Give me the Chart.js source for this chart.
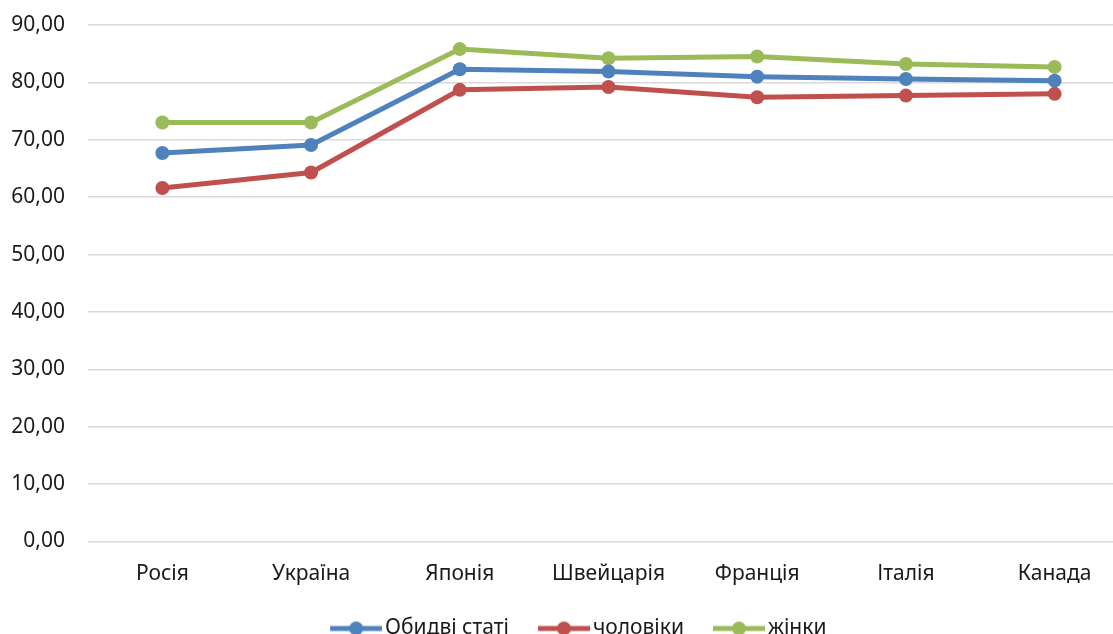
<!DOCTYPE html>
<html lang="uk">
<head>
<meta charset="utf-8">
<title>Тривалість життя</title>
<script src="https://cdn.jsdelivr.net/npm/chart.js@4/dist/chart.umd.min.js"></script>
<style>
  html, body { margin: 0; padding: 0; background: #fff; overflow: hidden; }
  #lifeChart { position: absolute; left: 0; top: 0; }
</style>
</head>
<body>
<canvas id="lifeChart" width="1136" height="649"></canvas>
<script>
// Країни
const countries = ['Росія', 'Україна', 'Японія', 'Швейцарія', 'Франція', 'Італія', 'Канада'];

// Значення по серіях
const bothSexes = [67.7, 69.1, 82.3, 81.9, 81.0, 80.6, 80.3];
const men = [61.6, 64.3, 78.7, 79.2, 77.4, 77.7, 78.0];
const women = [73.0, 73.0, 85.8, 84.2, 84.5, 83.2, 82.7];

// Шкала Y
const yMin = 0;
const yMax = 90;
const yStep = 10;

const FONT = 'Noto Sans';
const colors = ['#4F81BD', '#C0504D', '#9BBB59'];

// Значок легенди: лінія з кружечком (зліва прозорий відступ 18px)
function legendIcon(color) {
    const c = document.createElement('canvas');
    c.width = 70;
    c.height = 16;
    const g = c.getContext('2d');
    g.strokeStyle = color;
    g.lineWidth = 5;
    g.beginPath();
    g.moveTo(18, 8);
    g.lineTo(70, 8);
    g.stroke();
    g.fillStyle = color;
    g.beginPath();
    g.arc(44, 8, 7, 0, Math.PI * 2);
    g.fill();
    return c;
}
const icons = colors.map(legendIcon);

function series(label, values, color) {
    return {
        label: label,
        data: values,
        borderColor: color,
        backgroundColor: color,
        pointBackgroundColor: color,
        pointBorderWidth: 0,
        pointRadius: 7,
        pointHoverRadius: 7,
        borderWidth: 5,
        tension: 0,
        fill: false,
    };
}

const ctx = document.getElementById('lifeChart').getContext('2d');

new Chart(ctx, {
    type: 'line',
    data: {
        labels: countries,
        datasets: [
            series('Обидві статі', bothSexes, colors[0]),
            series('чоловіки', men, colors[1]),
            series('жінки', women, colors[2]),
        ],
    },
    options: {
        responsive: false,
        animation: false,
        devicePixelRatio: 1,
        layout: {
            padding: { top: 25, left: 12, right: 2, bottom: 0 }
        },
        plugins: {
            tooltip: { enabled: false },
            legend: {
                position: 'bottom',
                labels: {
                    usePointStyle: true,
                    pointStyleWidth: 55,
                    padding: 18.5,
                    color: '#1a1a1a',
                    font: { family: FONT, size: 21 },
                    generateLabels: (chart) => chart.data.datasets.map((ds, i) => ({
                        text: ds.label,
                        fillStyle: ds.borderColor,
                        strokeStyle: ds.borderColor,
                        fontColor: '#1a1a1a',
                        lineWidth: 0,
                        pointStyle: icons[i],
                        datasetIndex: i,
                        hidden: false,
                    })),
                },
            },
        },
        scales: {
            x: {
                offset: true,
                grid: { display: false },
                border: { display: false },
                ticks: {
                    color: '#1a1a1a',
                    padding: 12,
                    maxRotation: 0,
                    font: { family: FONT, size: 21 },
                },
                afterFit: (scale) => {
                    scale.height = 58;
                    scale.paddingLeft = 0;
                    scale.paddingRight = 0;
                },
            },
            y: {
                min: yMin,
                max: yMax,
                border: { display: false },
                grid: { color: '#d9d9d9', lineWidth: 1.5, drawTicks: false },
                ticks: {
                    stepSize: yStep,
                    padding: 23,
                    color: '#1a1a1a',
                    font: { family: FONT, size: 21 },
                    callback: (v) => v.toFixed(2).replace('.', ','),
                },
                afterFit: (scale) => {
                    scale.width = 76;
                    scale.paddingTop = 0;
                    scale.paddingBottom = 0;
                },
            },
        },
    },
});
</script>
</body>
</html>
